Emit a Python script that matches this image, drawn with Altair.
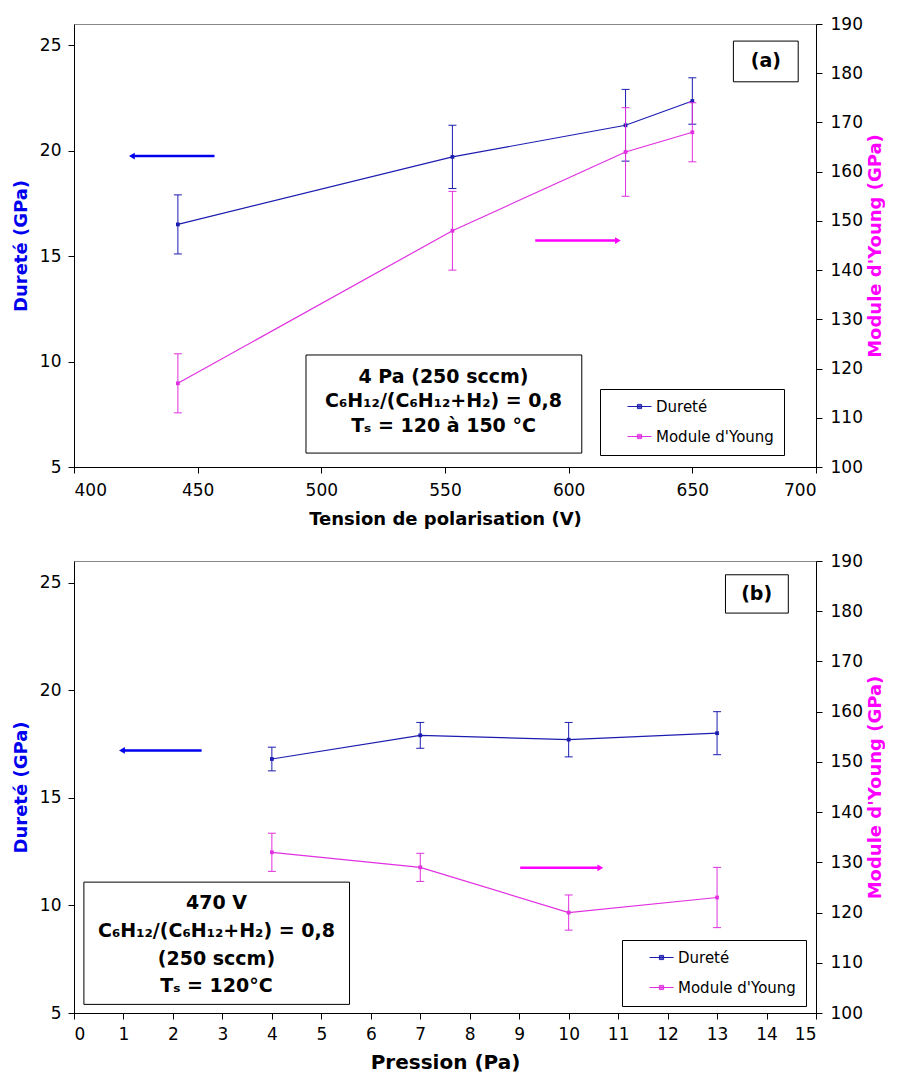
import altair as alt
import pandas as pd

FONT = "DejaVu Sans"
BLUE_LINE = "#1c1cb0"
BLUE = "#0000ee"
MAG_LINE = "#e030e0"
MAG = "#ff00ff"

SERIES = ["Dureté", "Module d'Young"]

# ---- panel (a) : tension de polarisation ----
A_TENSION = [442, 553, 623, 650]
A_DURETE = [16.5, 19.7, 21.2, 22.35]
A_DURETE_ERR = [1.4, 1.5, 1.7, 1.1]
A_YOUNG = [117, 148, 164, 168]
A_YOUNG_ERR = [6, 8, 9, 6]
A_XTICKS = [400, 450, 500, 550, 600, 650, 700]
A_ANNOT = ["4 Pa (250 sccm)", "C₆H₁₂/(C₆H₁₂+H₂) = 0,8", "Tₛ = 120 à 150 °C"]

# ---- panel (b) : pression ----
B_PRESSION = [4, 7, 10, 13]
B_DURETE = [16.8, 17.9, 17.7, 18.0]
B_DURETE_ERR = [0.55, 0.6, 0.8, 1.0]
B_YOUNG = [132, 129, 120, 123]
B_YOUNG_ERR = [3.8, 2.8, 3.5, 6.0]
B_XTICKS = [0, 1, 2, 3, 4, 5, 6, 7, 8, 9, 10, 11, 12, 13, 14, 15]
B_ANNOT = ["470 V", "C₆H₁₂/(C₆H₁₂+H₂) = 0,8", "(250 sccm)", "Tₛ = 120°C"]

DUR_TICKS = [5, 10, 15, 20, 25]
YOUNG_TICKS = [100, 110, 120, 130, 140, 150, 160, 170, 180, 190]

LEG_SYMBOL = ("M-2,0H2M-0.35,-0.35H0.35V0.35H-0.35Z"
              "M-0.35,-0.12H0.35M-0.35,0.12H0.35")

W = 742


def panel(xv, dur, dur_err, yng, yng_err, xdom, xticks, xtitle, xtitle_size,
          xlab_pad, xtitle_pad,
          box, box_text_x, box_text_y, box_lines, tag, tag_box, tag_xy,
          arrow_l, arrow_r, leg_xy, height):
    dfd = pd.DataFrame({"x": xv, "v": dur,
                        "lo": [v - e for v, e in zip(dur, dur_err)],
                        "hi": [v + e for v, e in zip(dur, dur_err)],
                        "s": SERIES[0]})
    dfy = pd.DataFrame({"x": xv, "v": yng,
                        "lo": [v - e for v, e in zip(yng, yng_err)],
                        "hi": [v + e for v, e in zip(yng, yng_err)],
                        "s": SERIES[1]})

    def X(f="x"):
        return alt.X(f"{f}:Q", scale=alt.Scale(domain=xdom, nice=False, zero=False),
                     axis=alt.Axis(values=xticks, title=xtitle, format="d",
                                   titleFontSize=xtitle_size, labelPadding=xlab_pad,
                                   titlePadding=xtitle_pad))

    def YL(f):
        return alt.Y(f"{f}:Q", scale=alt.Scale(domain=[5, 26], nice=False, zero=False),
                     axis=alt.Axis(values=DUR_TICKS, title="Dureté (GPa)",
                                   titleColor=BLUE, orient="left",
                                   labelPadding=7, titlePadding=9))

    def YR(f):
        return alt.Y(f"{f}:Q", scale=alt.Scale(domain=[100, 190], nice=False, zero=False),
                     axis=alt.Axis(values=YOUNG_TICKS, title="Module d'Young (GPa)",
                                   titleColor=MAG, orient="right", titleAngle=270,
                                   titleBaseline="top", labelPadding=8,
                                   titlePadding=4))

    legend = alt.Legend(title=None, orient="none", legendX=leg_xy[0], legendY=leg_xy[1],
                        strokeColor="black", fillColor="white", padding=10,
                        symbolType=LEG_SYMBOL, symbolSize=144, symbolStrokeWidth=1,
                        symbolOffset=22, labelOffset=9, rowPadding=14,
                        labelFont=FONT, labelFontSize=15, labelColor="black")
    color = alt.Color("s:N", scale=alt.Scale(domain=SERIES, range=[BLUE_LINE, MAG_LINE]),
                      legend=legend)

    # annotation box
    box_df = pd.DataFrame({"x1": [box[0]], "x2": [box[1]], "y1": [box[2]], "y2": [box[3]]})
    box_rect = alt.Chart(box_df).mark_rect(fill="white", stroke="black", strokeWidth=1).encode(
        x=X("x1"), x2=alt.X2("x2"), y=YL("y1"), y2=alt.Y2("y2"))
    txt_df = pd.DataFrame({"x": [box_text_x] * len(box_lines), "y": box_text_y, "t": box_lines})
    box_txt = alt.Chart(txt_df).mark_text(font=FONT, fontSize=19, fontWeight="bold",
                                          align="center", baseline="middle", color="black").encode(
        x=X("x"), y=YL("y"), text="t:N")

    tag_df = pd.DataFrame({"x1": [tag_box[0]], "x2": [tag_box[1]], "y1": [tag_box[2]],
                           "y2": [tag_box[3]], "tx": [tag_xy[0]], "ty": [tag_xy[1]], "t": [tag]})
    tag_rect = alt.Chart(tag_df).mark_rect(fill="white", stroke="black", strokeWidth=1).encode(
        x=X("x1"), x2=alt.X2("x2"), y=YL("y1"), y2=alt.Y2("y2"))
    tag_txt = alt.Chart(tag_df).mark_text(font=FONT, fontSize=19, fontWeight="bold",
                                          align="center", baseline="middle", color="black").encode(
        x=X("tx"), y=YL("ty"), text="t:N")

    al = pd.DataFrame({"x0": [arrow_l[0]], "x1": [arrow_l[1]], "y": [arrow_l[2]]})
    arl_line = alt.Chart(al).mark_rule(color=BLUE, strokeWidth=2.5).encode(
        x=X("x0"), x2=alt.X2("x1"), y=YL("y"))
    arl_head = alt.Chart(al).mark_point(shape="triangle-left", filled=True, size=45,
                                        opacity=1, color=BLUE).encode(x=X("x1"), y=YL("y"))

    ar = pd.DataFrame({"x0": [arrow_r[0]], "x1": [arrow_r[1]], "y": [arrow_r[2]]})
    arr_line = alt.Chart(ar).mark_rule(color=MAG, strokeWidth=2.5).encode(
        x=X("x0"), x2=alt.X2("x1"), y=YR("y"))
    arr_head = alt.Chart(ar).mark_point(shape="triangle-right", filled=True, size=45,
                                        opacity=1, color=MAG).encode(x=X("x1"), y=YR("y"))

    def series(df, Y, col):
        err = alt.Chart(df).mark_rule(color=col, strokeWidth=1).encode(
            x=X("x"), y=Y("lo"), y2=alt.Y2("hi"))
        cap_lo = alt.Chart(df).mark_tick(color=col, orient="horizontal", size=8,
                                         thickness=1, opacity=1).encode(x=X("x"), y=Y("lo"))
        cap_hi = alt.Chart(df).mark_tick(color=col, orient="horizontal", size=8,
                                         thickness=1, opacity=1).encode(x=X("x"), y=Y("hi"))
        line = alt.Chart(df).mark_line(strokeWidth=1.2).encode(
            x=X("x"), y=Y("v"), color=color)
        pts = alt.Chart(df).mark_point(shape="square", filled=True, size=14, opacity=1,
                                       color=col).encode(x=X("x"), y=Y("v"))
        return [err, cap_lo, cap_hi, line, pts]

    gA = alt.layer(box_rect, box_txt, tag_rect, tag_txt, arl_line, arl_head,
                   *series(dfd, YL, BLUE_LINE))
    gB = alt.layer(arr_line, arr_head, *series(dfy, YR, MAG_LINE))
    return alt.layer(gA, gB).resolve_scale(y="independent").properties(width=W, height=height)


top = panel(A_TENSION, A_DURETE, A_DURETE_ERR, A_YOUNG, A_YOUNG_ERR,
            [400, 700], A_XTICKS, "Tension de polarisation (V)", 18, 9, 12,
            [493.8, 605.3, 5.66, 10.31], 549.4, [9.27, 8.13, 6.94], A_ANNOT,
            "(a)", [666.6, 692.8, 23.26, 25.19], [679.7, 24.24],
            [456.8, 423.4, 19.74], [586.5, 619.9, 146.0],
            [526, 365], 443)

bottom = panel(B_PRESSION, B_DURETE, B_DURETE_ERR, B_YOUNG, B_YOUNG_ERR,
               [0, 15], B_XTICKS, "Pression (Pa)", 20, 7, 10,
               [0.2, 5.57, 5.40, 11.08], 2.88, [10.1, 8.8, 7.5, 6.25], B_ANNOT,
               "(b)", [13.17, 14.44, 23.58, 25.36], [13.8, 24.48],
               [2.58, 0.97, 17.2], [9.02, 10.64, 128.9],
               [548, 379], 452)

chart = alt.vconcat(top, bottom, spacing=22).resolve_scale(color="independent").properties(
    padding={"left": 3, "top": 6, "right": 0, "bottom": 0}
).configure(font=FONT).configure_axis(
    labelFont=FONT, labelFontSize=17, labelColor="black",
    titleFont=FONT, titleFontSize=18, titleFontWeight="bold", titleColor="black",
    domainColor="black", tickColor="black", tickSize=6, grid=False
).configure_view(stroke="#888888", strokeWidth=1)

chart.save("out.html", embed_options={"renderer": "svg", "actions": False})
